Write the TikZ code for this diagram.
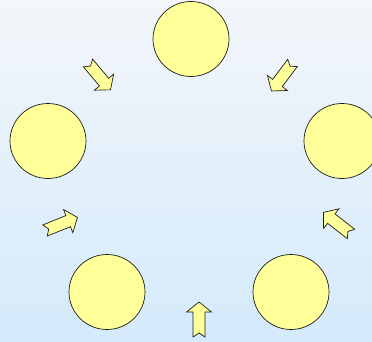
\documentclass[tikz,border=0pt]{standalone}
\usepackage{tikz}
\usetikzlibrary{shapes.geometric, positioning, calc}
\definecolor{cBgTop}{RGB}{243,246,250}
\definecolor{cBgBot}{RGB}{212,234,251}
\definecolor{cYellow}{RGB}{255,255,153}
\definecolor{cEdge}{RGB}{30,30,30}
\tikzset{
	stage/.style    ={ellipse, minimum width=76pt, minimum height=75pt, inner sep=0pt, draw=cEdge, line width=0.7pt, fill=cYellow},
	notcharrow/.pic ={\draw[draw=cEdge, line width=0.7pt, fill=cYellow, line join=miter]
		(0,-6) -- (25,-6) -- (25,-12.5) -- (35,0) -- (25,12.5) -- (25,6) -- (0,6) -- (4,0) -- cycle;},
}

\begin{document}
\begin{tikzpicture}[x=1pt, y=1pt]
	\shade[top color=cBgTop, bottom color=cBgBot] (0,0) rectangle (372,341);
	\useasboundingbox (0,0) rectangle (372,341);
	\node[stage] (top) at (191,302) {};
	\node[stage] (lft) at (48,200) {};
	\node[stage] (rgt) at (342,200) {};
	\node[stage] (blft) at (107,49) {};
	\node[stage] (brgt) at (291,49) {};
	\pic[rotate=-50] at (88,278) {notcharrow};
	\pic[rotate=-127] at (292.5,278) {notcharrow};
	\pic[rotate=22] at (45,110.5) {notcharrow};
	\pic[rotate=142] at (351,107) {notcharrow};
	\pic[rotate=90] at (199,4) {notcharrow};
\end{tikzpicture}
\end{document}
